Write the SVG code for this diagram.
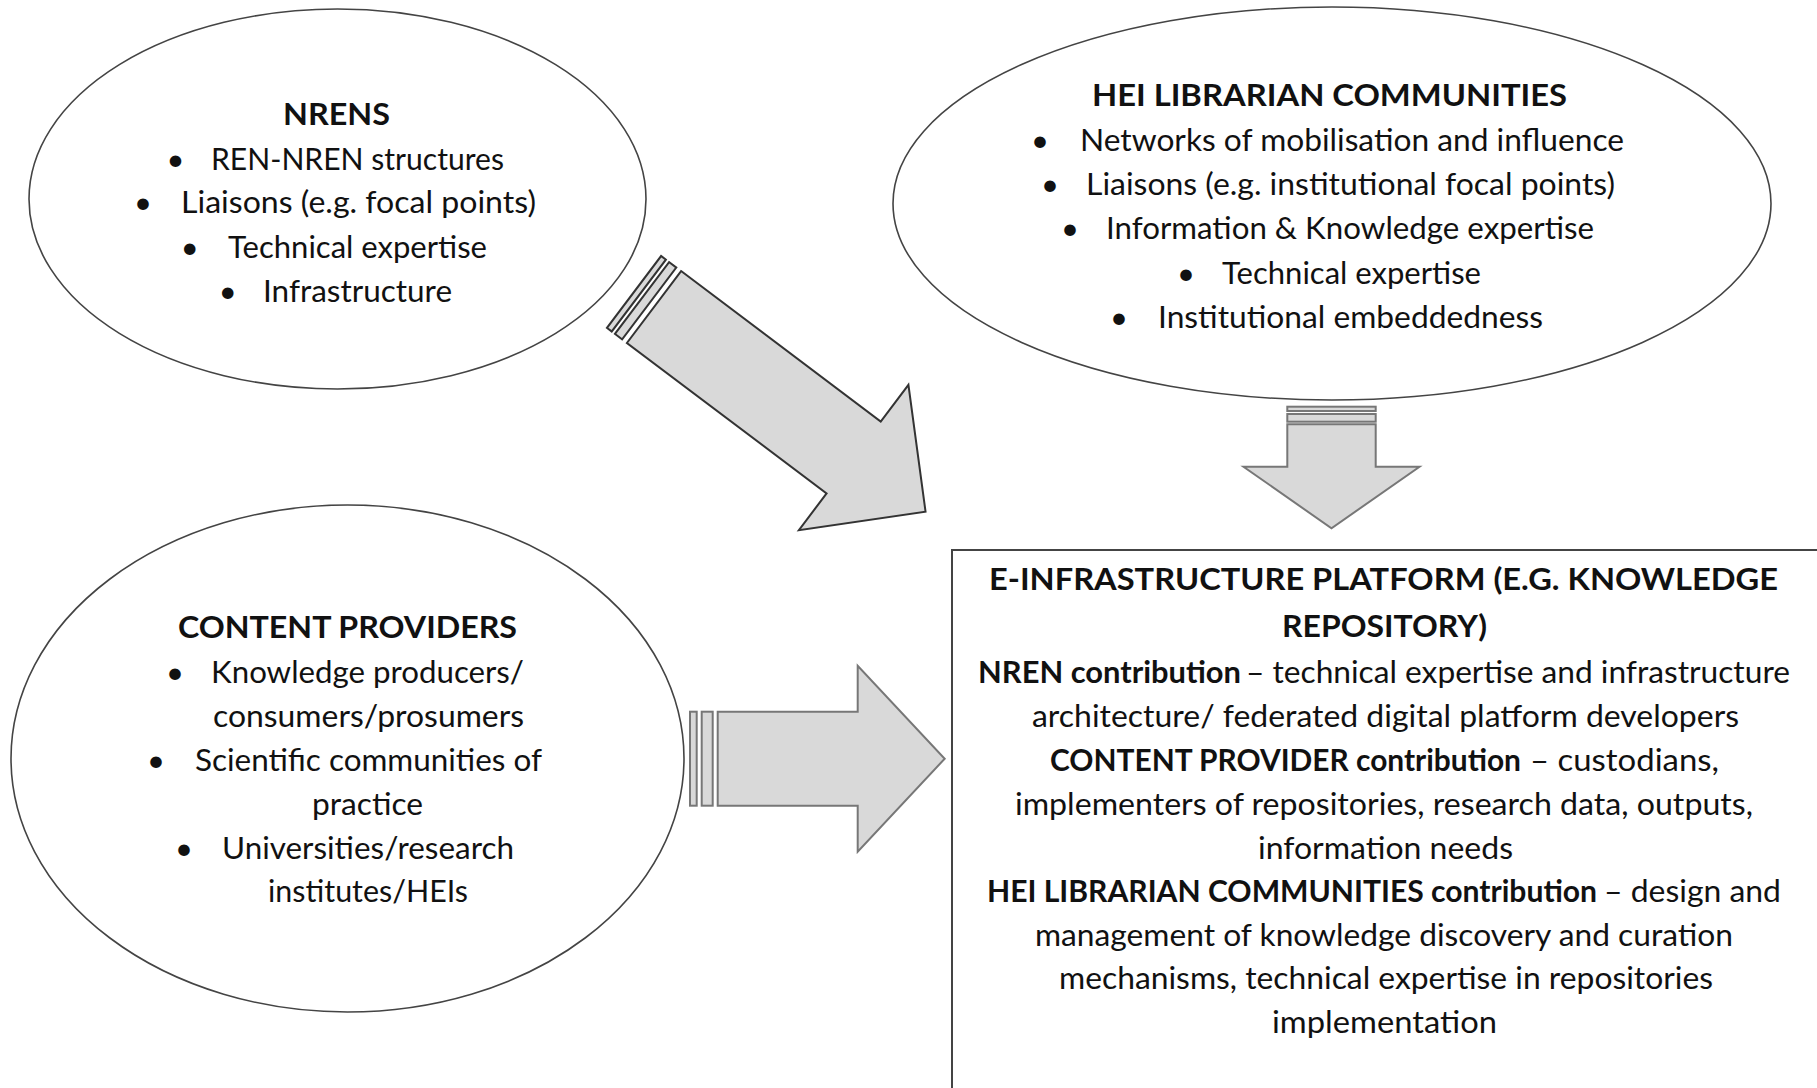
<svg xmlns="http://www.w3.org/2000/svg" width="1817" height="1088" viewBox="0 0 1817 1088">
<style>
  .t { font-family: Lato, "Liberation Sans", sans-serif; font-size: 31px; fill: #111; }
  .bd { font-weight: bold; }
  .bu { text-anchor: middle; }
  .ell { fill: #fff; stroke: #444; stroke-width: 1.6; }
  .arr { fill: #d9d9d9; stroke-width: 2; stroke-linejoin: miter; }
  .dk { stroke: #333; }
  .lt { stroke: #777; }
  .box { fill: #fff; stroke: #444; stroke-width: 2; }
</style>
<rect width="1817" height="1088" fill="#fff"/>

<g id="node-nrens">
  <ellipse class="ell" cx="337.5" cy="199" rx="308.5" ry="190"/>
  <text class="t bd" x="283" y="125" textLength="107" lengthAdjust="spacingAndGlyphs">NRENS</text>
  <text class="t bu" x="175.4" y="169.6">•</text>
  <text class="t" x="211" y="169.6" textLength="293" lengthAdjust="spacingAndGlyphs">REN-NREN structures</text>
  <text class="t bu" x="142.9" y="213.4">•</text>
  <text class="t" x="181" y="213.4" textLength="355" lengthAdjust="spacingAndGlyphs">Liaisons (e.g. focal points)</text>
  <text class="t bu" x="189.7" y="258">•</text>
  <text class="t" x="228" y="258" textLength="259" lengthAdjust="spacingAndGlyphs">Technical expertise</text>
  <text class="t bu" x="227.7" y="301.8">•</text>
  <text class="t" x="263" y="301.8" textLength="189" lengthAdjust="spacingAndGlyphs">Infrastructure</text>
</g>

<g id="node-hei">
  <ellipse class="ell" cx="1332" cy="203.5" rx="439" ry="196.5"/>
  <text class="t bd" x="1092" y="106" textLength="475" lengthAdjust="spacingAndGlyphs">HEI LIBRARIAN COMMUNITIES</text>
  <text class="t bu" x="1040" y="150.5">•</text>
  <text class="t" x="1080" y="150.5" textLength="544" lengthAdjust="spacingAndGlyphs">Networks of mobilisation and influence</text>
  <text class="t bu" x="1050" y="195">•</text>
  <text class="t" x="1086" y="195" textLength="529" lengthAdjust="spacingAndGlyphs">Liaisons (e.g. institutional focal points)</text>
  <text class="t bu" x="1070" y="239">•</text>
  <text class="t" x="1106" y="239" textLength="488" lengthAdjust="spacingAndGlyphs">Information &amp; Knowledge expertise</text>
  <text class="t bu" x="1186" y="283.5">•</text>
  <text class="t" x="1222" y="283.5" textLength="259" lengthAdjust="spacingAndGlyphs">Technical expertise</text>
  <text class="t bu" x="1119" y="328">•</text>
  <text class="t" x="1158" y="328" textLength="385" lengthAdjust="spacingAndGlyphs">Institutional embeddedness</text>
</g>

<g id="node-content">
  <ellipse class="ell" cx="347.5" cy="758.5" rx="336.5" ry="253.5"/>
  <text class="t bd" x="178" y="638" textLength="339" lengthAdjust="spacingAndGlyphs">CONTENT PROVIDERS</text>
  <text class="t bu" x="175" y="683">•</text>
  <text class="t" x="211" y="683" textLength="313" lengthAdjust="spacingAndGlyphs">Knowledge producers/</text>
  <text class="t" x="213" y="726.5" textLength="311" lengthAdjust="spacingAndGlyphs">consumers/prosumers</text>
  <text class="t bu" x="156" y="770.5">•</text>
  <text class="t" x="195" y="770.5" textLength="347" lengthAdjust="spacingAndGlyphs">Scientific communities of</text>
  <text class="t" x="312" y="814.5" textLength="111" lengthAdjust="spacingAndGlyphs">practice</text>
  <text class="t bu" x="184" y="858.5">•</text>
  <text class="t" x="222" y="858.5" textLength="292" lengthAdjust="spacingAndGlyphs">Universities/research</text>
  <text class="t" x="268" y="902" textLength="200" lengthAdjust="spacingAndGlyphs">institutes/HEIs</text>
</g>

<g id="node-platform">
  <rect class="box" x="952" y="550" width="900" height="600"/>
  <text class="t bd" x="989" y="589.5" textLength="789" lengthAdjust="spacingAndGlyphs">E-INFRASTRUCTURE PLATFORM (E.G. KNOWLEDGE</text>
  <text class="t bd" x="1282" y="637" textLength="205" lengthAdjust="spacingAndGlyphs">REPOSITORY)</text>
  <text class="t bd" x="978" y="682.5" textLength="263" lengthAdjust="spacingAndGlyphs">NREN contribution</text>
  <text class="t" x="1246" y="682.5" textLength="544" lengthAdjust="spacingAndGlyphs">– technical expertise and infrastructure</text>
  <text class="t" x="1032" y="726.5" textLength="707" lengthAdjust="spacingAndGlyphs">architecture/ federated digital platform developers</text>
  <text class="t bd" x="1050" y="770.5" textLength="471" lengthAdjust="spacingAndGlyphs">CONTENT PROVIDER contribution</text>
  <text class="t" x="1530" y="770.5" textLength="189" lengthAdjust="spacingAndGlyphs">–  custodians,</text>
  <text class="t" x="1015" y="815" textLength="738" lengthAdjust="spacingAndGlyphs">implementers of repositories, research data, outputs,</text>
  <text class="t" x="1258" y="858.5" textLength="255" lengthAdjust="spacingAndGlyphs">information needs</text>
  <text class="t bd" x="987" y="902" textLength="610" lengthAdjust="spacingAndGlyphs">HEI LIBRARIAN COMMUNITIES contribution</text>
  <text class="t" x="1604" y="902" textLength="177" lengthAdjust="spacingAndGlyphs">– design and</text>
  <text class="t" x="1035" y="945.5" textLength="698" lengthAdjust="spacingAndGlyphs">management of knowledge discovery and curation</text>
  <text class="t" x="1059" y="989" textLength="654" lengthAdjust="spacingAndGlyphs">mechanisms, technical expertise in repositories</text>
  <text class="t" x="1272" y="1032.5" textLength="225" lengthAdjust="spacingAndGlyphs">implementation</text>
</g>

<g id="connectors">
  <g id="arrow-nrens-platform" transform="translate(654 307) rotate(37)">
    <rect class="arr dk" x="-25" y="-45" width="6" height="90"/>
    <rect class="arr dk" x="-15" y="-45" width="9" height="90"/>
    <polygon class="arr dk" points="0,-45 250,-45 250,-91 340,0 250,91 250,45 0,45"/>
  </g>
  <g id="arrow-content-platform" transform="translate(717.7 758.7)">
    <rect class="arr lt" x="-27.7" y="-47" width="6.7" height="94"/>
    <rect class="arr lt" x="-16" y="-47" width="11" height="94"/>
    <polygon class="arr lt" points="0,-47 140,-47 140,-93 227,0 140,93 140,47 0,47"/>
  </g>
  <g id="arrow-hei-platform" transform="translate(1331.5 424.3) rotate(90)">
    <rect class="arr lt" x="-17.6" y="-44.2" width="4.3" height="88.4"/>
    <rect class="arr lt" x="-10.3" y="-44.2" width="7.7" height="88.4"/>
    <polygon class="arr lt" points="0,-44.2 42.4,-44.2 42.4,-88 104,0 42.4,88 42.4,44.2 0,44.2"/>
  </g>
</g>
</svg>
